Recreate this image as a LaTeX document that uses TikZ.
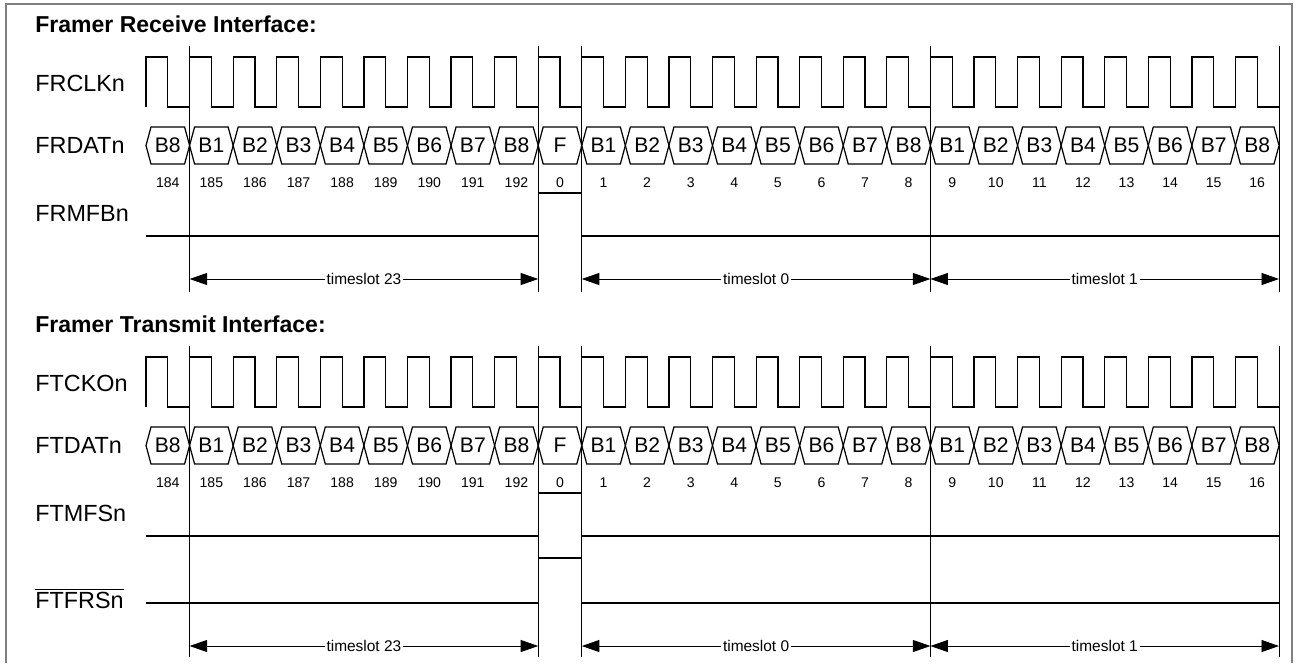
\documentclass[tikz,border=0pt]{standalone}
\usepackage{fontspec}
\setmainfont{Liberation Sans}
\usetikzlibrary{arrows.meta,calc,positioning}

\begin{document}
\begin{tikzpicture}[x=0.02cm,y=-0.02cm,>={Triangle[length=3.5mm,width=2.4mm]}]
  \tikzstyle{wave}=[line width=0.7pt]
  \tikzstyle{marker}=[line width=0.5pt]
  \tikzstyle{sig label}=[anchor=west,inner sep=0,font=\fontsize{13.3}{15}\selectfont]
  \tikzstyle{title text}=[anchor=west,inner sep=0,font=\fontsize{13.1}{15}\selectfont\bfseries]
  \tikzstyle{bit text}=[inner sep=0,font=\fontsize{12}{14}\selectfont]
  \tikzstyle{bit num}=[anchor=base,inner sep=0,font=\fontsize{8}{9}\selectfont]
  \tikzstyle{slot text}=[midway,fill=white,inner sep=1pt,font=\fontsize{8.8}{10}\selectfont]
  \useasboundingbox (0,0) rectangle (1297,663);
  \draw[gray,line width=1.1pt] (6,663) -- (6,4) -- (1292,4) -- (1292,663);

  % one panel for receive, one for transmit
  \foreach \p/\dy/\ay/\ly/\head/\clk/\dat/\mf in {r/0/279/292/Framer Receive Interface:/FRCLKn/FRDATn/FRMFBn,
                                                  t/300/346/357/Framer Transmit Interface:/FTCKOn/FTDATn/FTMFSn}{
  \begin{scope}[shift={(0,\dy)}]
    \node[title text] (\p head) at (35,24) {\head};
    \node[sig label] (\p clk) at (35,83.5) {\clk};
    \node[sig label] (\p dat) at (35,145.5) {\dat};
    \node[sig label] (\p mf) at (35,213.5) {\mf};

    % clock
    \draw[wave] (146,107) \foreach \k in {0,...,25}{ -- ++(0,-50) -- ++(21.79,0) -- ++(0,50) -- ++(21.79,0)};

    % data bits
    \foreach \b/\n [count=\k from 0] in {B8/184,B1/185,B2/186,B3/187,B4/188,B5/189,B6/190,B7/191,B8/192,F/0,
        B1/1,B2/2,B3/3,B4/4,B5/5,B6/6,B7/7,B8/8,B1/9,B2/10,B3/11,B4/12,B5/13,B6/14,B7/15,B8/16}{
      \pgfmathsetmacro\xa{146+\k*43.577}
      \pgfmathsetmacro\xb{\xa+43.577}
      \draw[wave] (\xa,145.5) -- (\xa+5,127) -- (\xb-5,127) -- (\xb,145.5) -- (\xb-5,164) -- (\xa+5,164) -- cycle;
      \node[bit text] (\p bit\k) at (\xa+21.79,145.5) {\b};
      \node[bit num] (\p num\k) at (\xa+21.79,187.5) {\n};
    }

    % multiframe pulse
    \draw[wave] (146,236) -- (538.2,236) -- (538.2,193) -- (581.8,193) -- (581.8,236) -- (1279,236);

    % slot boundaries
    \foreach \x [count=\i] in {189.6,538.2,581.8,930.4,1279}{
      \coordinate (\p top\i) at (\x,46);
      \coordinate (\p bot\i) at (\x,\ly);
      \coordinate (\p arr\i) at (\x,\ay);
      \draw[marker] (\p top\i) -- (\p bot\i);
    }
    \draw[marker,<->] (\p arr1) -- (\p arr2) node[slot text] (\p slotA) {timeslot 23};
    \draw[marker,<->] (\p arr3) -- (\p arr4) node[slot text] (\p slotB) {timeslot 0};
    \draw[marker,<->] (\p arr4) -- (\p arr5) node[slot text] (\p slotC) {timeslot 1};
  \end{scope}
  }

  % frame sync, transmit side only
  \node[sig label,anchor=base west] (tfrs) at (35,608) {$\overline{\hbox{FTFRSn}}$};
  \draw[wave] (146,603) -- (538.2,603) -- (538.2,558) -- (581.8,558) -- (581.8,603) -- (1279,603);
\end{tikzpicture}
\end{document}
